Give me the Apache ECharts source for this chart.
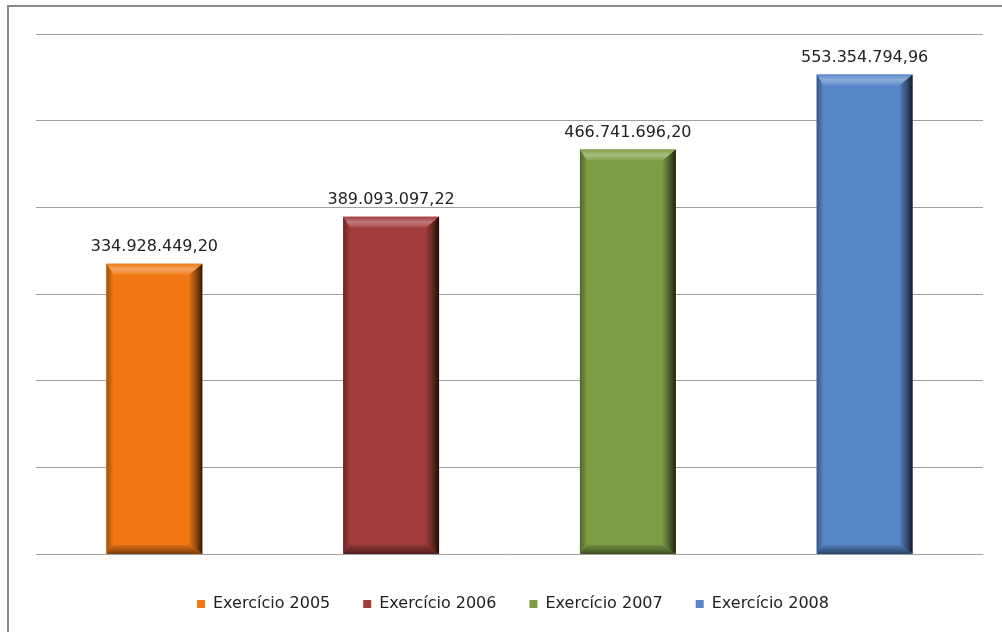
<!DOCTYPE html>
<html>
<head>
<meta charset="utf-8">
<script src="https://cdn.jsdelivr.net/npm/echarts@6/dist/echarts.min.js"></script>
<style>
  html, body { margin: 0; padding: 0; background: #fff; }
  #chart { width: 1002px; height: 632px; }
</style>
</head>
<body>
<div id="chart"></div>
<script>
// Receitas por exercício
const categories = ['Exercício 2005', 'Exercício 2006', 'Exercício 2007', 'Exercício 2008'];
const values = [334928449.20, 389093097.22, 466741696.20, 553354794.96];
const colors = ['#F17815', '#A13C3C', '#7E9C44', '#5887C9'];
const yMax = 600000000;
const yStep = 100000000;

function formatBR(n) {
  const parts = n.toFixed(2).split('.');
  const intPart = parts[0].replace(/\B(?=(\d{3})+(?!\d))/g, '.');
  return intPart + ',' + parts[1];
}

function shade(hex, f) {
  const r = parseInt(hex.slice(1, 3), 16), g = parseInt(hex.slice(3, 5), 16), b = parseInt(hex.slice(5, 7), 16);
  const m = c => f >= 0 ? Math.round(c + (255 - c) * f) : Math.round(c * (1 + f));
  return 'rgb(' + m(r) + ',' + m(g) + ',' + m(b) + ')';
}

function makeRender(color) {
  return function (params, api) {
    const idx = api.value(0), v = api.value(1);
    const top = api.coord([idx, v]);
    const base = api.coord([idx, 0]);
    const w = api.size([1, 0])[0] * 0.405;
    const x0 = top[0] - w / 2, x1 = top[0] + w / 2, y0 = top[1], y1 = base[1];
    const bl = 7, br = 13, bt = 11, bb = 9;
    const xi0 = x0 + bl, xi1 = x1 - br, yi0 = y0 + bt, yi1 = y1 - bb;
    const lin = (x, y, x2, y2, stops) => ({ type: 'linear', x: x, y: y, x2: x2, y2: y2, colorStops: stops });
    return {
      type: 'group',
      children: [
        { type: 'rect', shape: { x: x0, y: y0, width: w, height: y1 - y0 }, style: { fill: color } },
        { type: 'polygon', shape: { points: [[x0, y0], [x1, y0], [xi1, yi0], [xi0, yi0]] },
          style: { fill: lin(0, 0, 0, 1, [{ offset: 0, color: shade(color, 0.02) }, { offset: 0.5, color: shade(color, 0.32) }, { offset: 1, color: shade(color, 0.06) }]) } },
        { type: 'polygon', shape: { points: [[x0, y0], [xi0, yi0], [xi0, yi1], [x0, y1]] },
          style: { fill: lin(0, 0, 1, 0, [{ offset: 0, color: shade(color, -0.35) }, { offset: 1, color: shade(color, -0.02) }]) } },
        { type: 'polygon', shape: { points: [[x1, y0], [x1, y1], [xi1, yi1], [xi1, yi0]] },
          style: { fill: lin(0, 0, 1, 0, [{ offset: 0, color: shade(color, -0.05) }, { offset: 0.6, color: shade(color, -0.45) }, { offset: 1, color: shade(color, -0.8) }]) } },
        { type: 'polygon', shape: { points: [[x0, y1], [x1, y1], [xi1, yi1], [xi0, yi1]] },
          style: { fill: lin(0, 0, 0, 1, [{ offset: 0, color: shade(color, -0.1) }, { offset: 1, color: shade(color, -0.5) }]) } },
        { type: 'text', style: { text: formatBR(v), x: top[0], y: y0 - 9, align: 'center', verticalAlign: 'bottom',
          font: '16px "DejaVu Sans"', fill: '#222' } }
      ]
    };
  };
}

const chart = echarts.init(document.getElementById('chart'), null, { renderer: 'canvas' });

const series = categories.map((name, i) => ({
  name: name,
  type: 'custom',
  color: colors[i],
  itemStyle: { color: colors[i] },
  renderItem: makeRender(colors[i]),
  encode: { x: 0, y: 1 },
  data: [[i, values[i]]]
}));

chart.setOption({
  animation: false,
  backgroundColor: '#fff',
  graphic: [{
    type: 'rect', shape: { x: 8, y: 6, width: 1200, height: 800 },
    style: { fill: 'none', stroke: '#8a8a8a', lineWidth: 2 }, z: 10
  }],
  grid: { left: 36, right: 19, top: 34, bottom: 78 },
  legend: {
    data: categories, top: 591, left: 192, padding: [5, 5, 5, 5],
    icon: 'rect', itemWidth: 8, itemHeight: 8, itemGap: 33,
    textStyle: { fontSize: 16, fontFamily: 'DejaVu Sans', color: '#222', padding: [0, 0, 0, 3] }
  },
  xAxis: {
    type: 'category', data: categories,
    axisLabel: { show: false }, axisTick: { show: false },
    axisLine: { show: true, lineStyle: { color: '#a0a0a0', width: 1 } }
  },
  yAxis: {
    type: 'value', min: 0, max: yMax, interval: yStep,
    axisLabel: { show: false }, axisTick: { show: false }, axisLine: { show: false },
    splitLine: { lineStyle: { color: '#a0a0a0', width: 1 } }
  },
  series: series
});
</script>
</body>
</html>
